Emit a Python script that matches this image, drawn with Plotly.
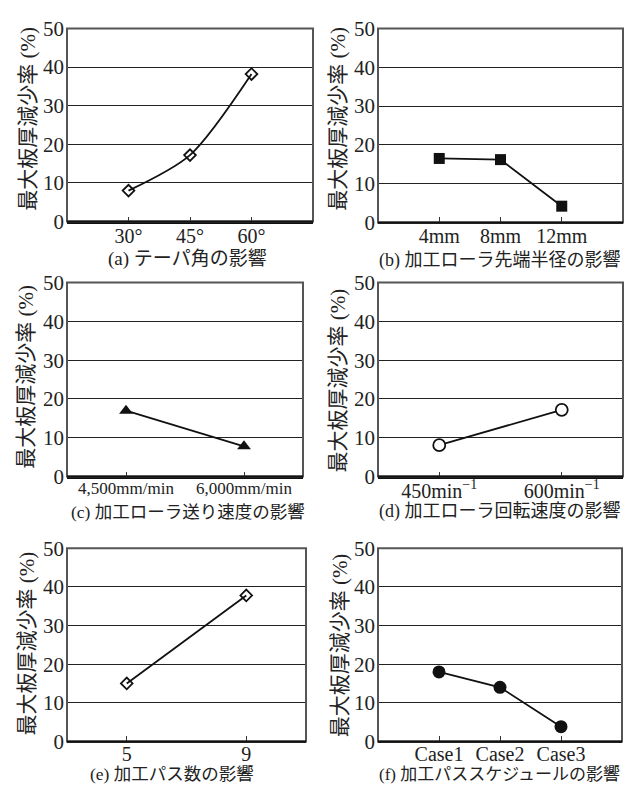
import plotly.graph_objects as go

W, H = 627, 798

# ---- data ----
cat_a = ["30°", "45°", "60°"]
val_a = [8, 17.2, 38.2]
cat_b = ["4mm", "8mm", "12mm"]
val_b = [16.5, 16.2, 4.2]
cat_c = ["4,500mm/min", "6,000mm/min"]
val_c = [17.0, 7.8]
cat_d = ["450min<sup>−1</sup>", "600min<sup>−1</sup>"]
val_d = [8.1, 17.2]
cat_e = ["5", "9"]
val_e = [15.0, 37.8]
cat_f = ["Case1", "Case2", "Case3"]
val_f = [18.0, 14.0, 3.8]

captions = ["(a) テーパ角の影響", "(b) 加工ローラ先端半径の影響", "(c) 加工ローラ送り速度の影響",
            "(d) 加工ローラ回転速度の影響", "(e) 加工パス数の影響", "(f) 加工パススケジュールの影響"]
ytitle = "最大板厚減少率 (%)"
yticks = [0, 10, 20, 30, 40, 50]

FONT = "Liberation Serif, Noto Sans CJK JP, serif"

boxes = [(67, 313, 17, 216), (378, 623, 17, 217),
         (67, 303, 279, 479), (378, 623, 279, 479),
         (67, 306, 553, 752), (378, 622, 553, 752)]
cap_pos = [(188, 255), (500, 256), (188, 515), (500, 515), (172, 786), (499, 786)]
cap_size = [19, 18, 17.5, 18, 17.5, 17]
xtick_size = [20, 20, 17, 20, 20, 20]
xtick_standoff = [-5, -5, -5, -5, -6, -6]
ytitle_pos = [(28, 110), (338, 110), (26, 376), (338, 380), (27, 651), (340, 653)]

series = [
    (cat_a, val_a, dict(symbol="diamond-open", size=9, color="#111", line=dict(width=1.8, color="#111")), "spline"),
    (cat_b, val_b, dict(symbol="square", size=11, color="#111"), "linear"),
    (cat_c, val_c, dict(symbol="triangle-up", size=12, color="#111"), "linear"),
    (cat_d, val_d, dict(symbol="circle", size=12, color="white", line=dict(width=1.8, color="#111")), "linear"),
    (cat_e, val_e, dict(symbol="diamond-open", size=9, color="#111", line=dict(width=1.8, color="#111")), "linear"),
    (cat_f, val_f, dict(symbol="circle", size=13, color="#111"), "linear"),
]

fig = go.Figure()
annotations = []
shapes = []
for i, ((cats, vals, mk, shp), (x0, x1, yt, yb)) in enumerate(zip(series, boxes)):
    n = i + 1
    xa = "x" if n == 1 else f"x{n}"
    ya = "y" if n == 1 else f"y{n}"
    line = dict(color="#111", width=1.8, shape=shp)
    if shp == "spline":
        line["smoothing"] = 0.8
    fig.add_trace(go.Scatter(x=cats, y=vals, mode="lines+markers", xaxis=xa, yaxis=ya,
                             line=line, marker=mk, showlegend=False, cliponaxis=False))
    ncat = len(cats)
    rng = [-1, 3] if ncat == 3 else [-0.5, 1.5]
    xkey = "xaxis" if n == 1 else f"xaxis{n}"
    ykey = "yaxis" if n == 1 else f"yaxis{n}"
    fig.update_layout(**{
        xkey: dict(domain=[x0 / W, x1 / W], anchor=ya, type="category", range=rng,
                   showgrid=False, showline=True, linecolor="#111", linewidth=2,
                   ticks="inside", ticklen=5, tickcolor="#333", tickwidth=1,
                   tickfont=dict(family=FONT, size=xtick_size[i], color="#222"), zeroline=False,
                   ticklabelstandoff=xtick_standoff[i], fixedrange=True),
        ykey: dict(domain=[1 - yb / H, 1 - yt / H], anchor=xa, range=[0, 50],
                   tickvals=yticks, ticktext=[str(t) for t in yticks],
                   showgrid=True, gridcolor="#222", gridwidth=1.2,
                   showline=False, ticks="", zeroline=False,
                   tickfont=dict(family=FONT, size=21, color="#222"),
                   ticklabelstandoff=2, fixedrange=True),
    })
    shapes.append(dict(type="rect", xref="paper", yref="paper",
                       x0=x0 / W, x1=x1 / W, y0=1 - yb / H, y1=1 - yt / H,
                       line=dict(color="#555", width=2), fillcolor="rgba(0,0,0,0)", layer="above"))
    shapes.append(dict(type="line", xref="paper", yref="paper",
                       x0=x0 / W, x1=x1 / W, y0=1 - yb / H, y1=1 - yb / H,
                       line=dict(color="#111", width=2), layer="above"))
    cx, cy = cap_pos[i]
    annotations.append(dict(text=captions[i], x=cx / W, y=1 - cy / H, xref="paper", yref="paper",
                            showarrow=False, xanchor="center", yanchor="middle",
                            font=dict(family=FONT, size=cap_size[i], color="#222")))
    tx, ty = ytitle_pos[i]
    annotations.append(dict(text=ytitle, x=tx / W, y=1 - ty / H, xref="paper", yref="paper",
                            showarrow=False, xanchor="center", yanchor="middle", textangle=-90,
                            font=dict(family=FONT, size=21, color="#222")))

fig.update_layout(width=W, height=H, margin=dict(l=0, r=0, t=0, b=0),
                  paper_bgcolor="white", plot_bgcolor="white",
                  annotations=annotations, shapes=shapes)

fig.write_html("out.html")
